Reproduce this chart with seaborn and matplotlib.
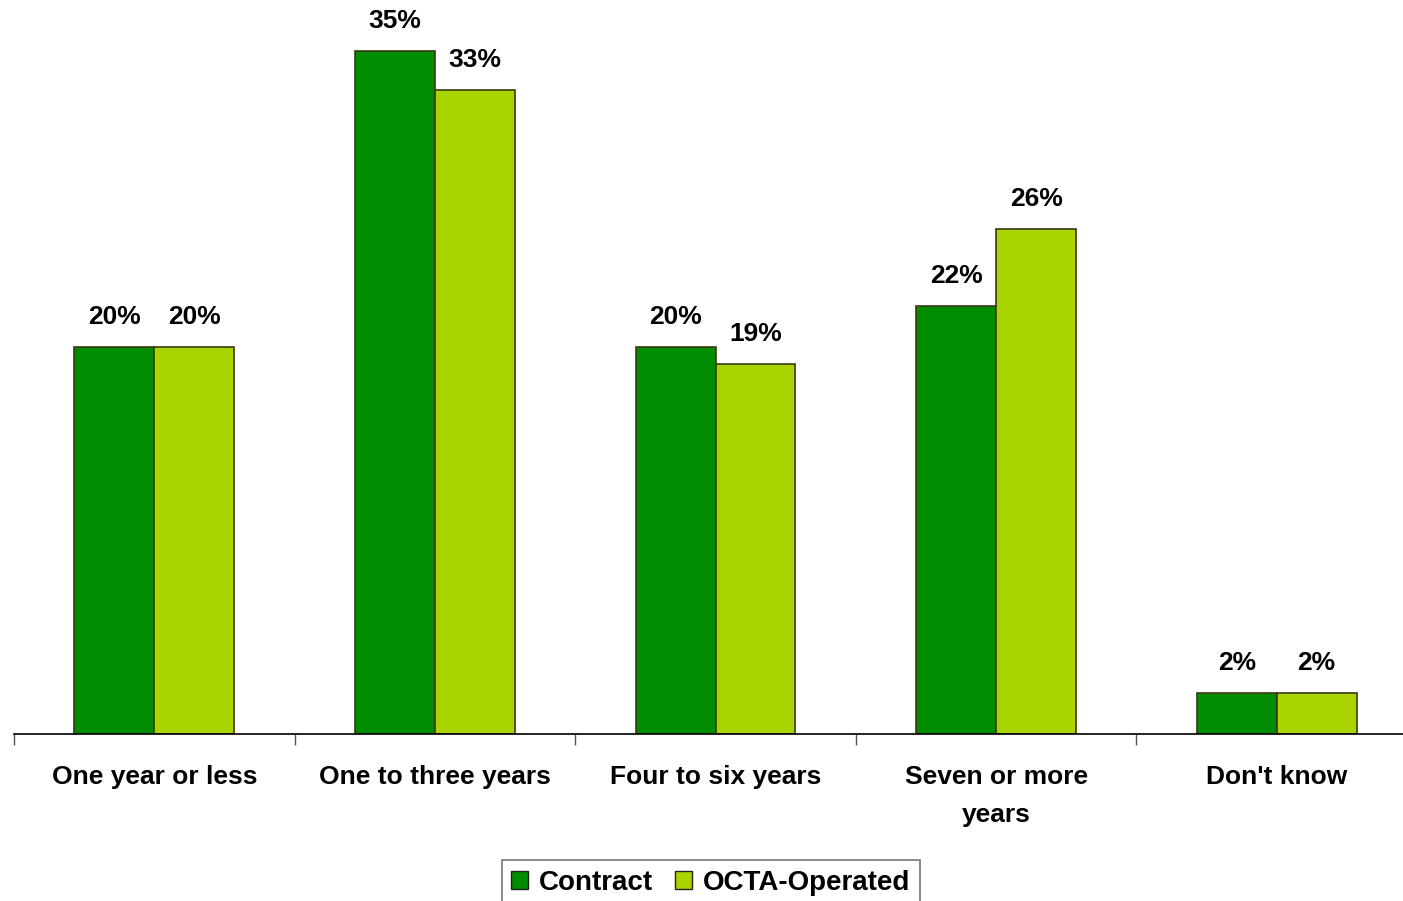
import pandas as pd
import matplotlib
matplotlib.use("Agg")
import matplotlib.pyplot as plt
import seaborn as sns
from matplotlib.patches import Patch

# Data
categories = ["One year or less", "One to three years", "Four to six years",
              "Seven or more\nyears", "Don't know"]
contract = [20.0, 35.3, 20.0, 22.1, 2.1]
octa = [20.0, 33.3, 19.1, 26.1, 2.1]
series = ["Contract", "OCTA-Operated"]
colors = ["#008C00", "#AAD400"]

df = pd.DataFrame({
    "category": categories * 2,
    "value": contract + octa,
    "series": [series[0]] * len(categories) + [series[1]] * len(categories),
})

sns.set_style("white", {"xtick.bottom": True, "text.color": "black",
                        "xtick.color": "black"})
plt.rcParams["font.family"] = ["Liberation Sans", "DejaVu Sans"]

fig = plt.figure(figsize=(14.03, 9.01), dpi=100)
# axes in pixel placement: left 14px, baseline at y=734px
ax = fig.add_axes([14 / 1403, (901 - 734) / 901, 1403 / 1403, 696.6 / 901])

sns.barplot(data=df, x="category", y="value", hue="series", palette=colors,
            width=0.57, edgecolor="#3a3a10", linewidth=1.2, ax=ax, legend=False,
            saturation=1)

# value labels
for cont in ax.containers:
    ax.bar_label(cont, labels=[f"{v:.0f}%" for v in cont.datavalues],
                 padding=13, fontsize=19, fontweight="bold", color="black")

ax.set_ylim(0, 36)
ax.set_xlim(-0.5, 4.5)
ax.set_xlabel("")
ax.set_ylabel("")
ax.set_yticks([])
for s in ["top", "right", "left"]:
    ax.spines[s].set_visible(False)
ax.spines["bottom"].set_color("black")
ax.spines["bottom"].set_linewidth(1.2)

ax.set_xticks(range(len(categories)))
ax.set_xticklabels(categories, fontsize=19, fontweight="bold", linespacing=1.75,
                   color="black")
ax.tick_params(axis="x", which="major", length=0, pad=22)
ax.set_xticks([i - 0.5 for i in range(len(categories) + 1)], minor=True)
ax.tick_params(axis="x", which="minor", bottom=True, length=8, width=1,
               color="#555555", direction="out")

handles = [Patch(facecolor=c, edgecolor="#222222", label=l)
           for c, l in zip(colors, series)]
leg = fig.legend(handles=handles, loc="upper center", ncol=2,
                 bbox_to_anchor=(711 / 1403, (901 - 860) / 901), frameon=True,
                 fancybox=False, edgecolor="#555555", handlelength=0.6,
                 handleheight=0.6, handletextpad=0.4, columnspacing=0.8,
                 prop={"size": 20, "weight": "bold"}, borderpad=0.35,
                 borderaxespad=0)
leg.get_frame().set_linewidth(1.2)

fig.savefig("out.png", dpi=100)
